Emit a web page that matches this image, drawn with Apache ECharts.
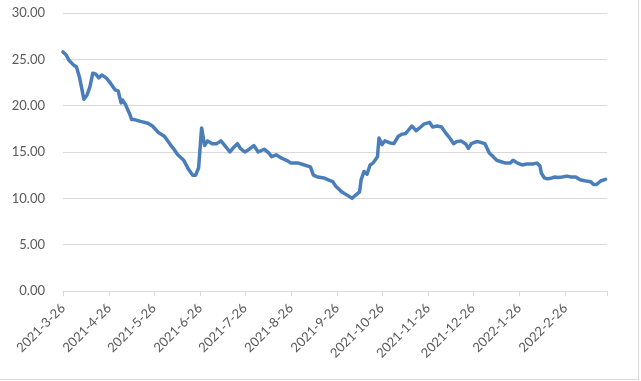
<!DOCTYPE html>
<html>
<head>
    <meta charset="utf-8">
    <title>ECharts</title>
    <script src="https://cdn.jsdelivr.net/npm/echarts@6/dist/echarts.min.js"></script>
    <style>
        body { margin: 0; background: #fff; }
        #main { width: 638px; height: 379px; border-right: 1px solid #d9d9d9; border-bottom: 1px solid #d9d9d9; }
    </style>
</head>
<body>
<div id="main"></div>
<script type="text/javascript">
    // 数据
    var startDate = '2021-3-26';
    var endDate = '2022-3-26';
    var yTicks = [0, 5, 10, 15, 20, 25, 30];

    var dates = [
        '2021-3-26','2021-3-28','2021-3-30','2021-4-2','2021-4-4','2021-4-6','2021-4-9','2021-4-11',
        '2021-4-13','2021-4-15','2021-4-17','2021-4-19','2021-4-21','2021-4-24','2021-4-27','2021-4-30',
        '2021-5-2','2021-5-4','2021-5-5','2021-5-7','2021-5-10','2021-5-11','2021-5-13','2021-5-17',
        '2021-5-22','2021-5-25','2021-5-29','2021-6-2','2021-6-6','2021-6-8','2021-6-11','2021-6-15',
        '2021-6-18','2021-6-21','2021-6-23','2021-6-25','2021-6-26','2021-6-27','2021-6-29','2021-7-1',
        '2021-7-4','2021-7-7','2021-7-10','2021-7-13','2021-7-16','2021-7-18','2021-7-21','2021-7-23',
        '2021-7-26','2021-7-29','2021-8-1','2021-8-4','2021-8-8','2021-8-11','2021-8-13','2021-8-16',
        '2021-8-20','2021-8-23','2021-8-26','2021-8-31','2021-9-4','2021-9-8','2021-9-10','2021-9-13',
        '2021-9-17','2021-9-20','2021-9-23','2021-9-25','2021-9-27','2021-9-29','2021-10-2','2021-10-6',
        '2021-10-8','2021-10-11','2021-10-12','2021-10-14','2021-10-16','2021-10-18','2021-10-20','2021-10-23',
        '2021-10-24','2021-10-26','2021-10-28','2021-10-31','2021-11-3','2021-11-6','2021-11-8','2021-11-11',
        '2021-11-13','2021-11-15','2021-11-18','2021-11-21','2021-11-23','2021-11-27','2021-11-29','2021-12-2',
        '2021-12-5','2021-12-8','2021-12-11','2021-12-13','2021-12-15','2021-12-18','2021-12-21','2021-12-23',
        '2021-12-25','2021-12-28','2021-12-30','2022-1-3','2022-1-4','2022-1-6','2022-1-8','2022-1-11',
        '2022-1-13','2022-1-17','2022-1-20','2022-1-22','2022-1-23','2022-1-25','2022-1-28','2022-1-31',
        '2022-2-4','2022-2-7','2022-2-9','2022-2-10','2022-2-12','2022-2-14','2022-2-17','2022-2-19',
        '2022-2-21','2022-2-24','2022-2-27','2022-3-2','2022-3-5','2022-3-8','2022-3-11','2022-3-15',
        '2022-3-17','2022-3-19','2022-3-22','2022-3-25'
    ];
    var values = [
        25.8, 25.5, 24.9, 24.4, 24.2, 23.1, 20.7, 21.1,
        22.0, 23.5, 23.4, 23.0, 23.3, 23.0, 22.4, 21.7,
        21.6, 20.3, 20.6, 20.1, 19.0, 18.5, 18.5, 18.3,
        18.1, 17.8, 17.1, 16.7, 15.8, 15.4, 14.7, 14.1,
        13.2, 12.5, 12.5, 13.3, 13.5, 17.6, 15.7, 16.2,
        15.9, 15.9, 16.2, 15.6, 15.0, 15.4, 15.9, 15.4,
        15.0, 15.3, 15.7, 15.0, 15.3, 14.9, 14.5, 14.7,
        14.3, 14.1, 13.8, 13.8, 13.6, 13.4, 12.5, 12.3,
        12.2, 12.0, 11.8, 11.3, 11.0, 10.7, 10.4, 10.0,
        10.3, 10.7, 12.0, 12.9, 12.6, 13.6, 13.8, 14.5,
        16.5, 15.8, 16.2, 16.0, 15.9, 16.7, 16.9, 17.0,
        17.4, 17.8, 17.3, 17.7, 18.0, 18.2, 17.7, 17.8,
        17.7, 17.0, 16.4, 15.9, 16.1, 16.2, 15.9, 15.4,
        15.9, 16.1, 16.1, 15.9, 15.6, 14.9, 14.6, 14.1,
        14.0, 13.8, 13.8, 14.1, 14.2, 13.8, 13.6, 13.7,
        13.7, 13.8, 13.5, 12.7, 12.2, 12.1, 12.2, 12.3,
        12.25, 12.3, 12.4, 12.3, 12.3, 12.0, 11.9, 11.8,
        11.5, 11.5, 11.9, 12.05
    ];

    // 生成每日类目
    function parseDate(s) {
        var p = s.split('-');
        return Date.UTC(+p[0], +p[1] - 1, +p[2]);
    }
    var days = [];
    for (var t = parseDate(startDate); t <= parseDate(endDate); t += 86400000) {
        var d = new Date(t);
        days.push(d.getUTCFullYear() + '-' + (d.getUTCMonth() + 1) + '-' + d.getUTCDate());
    }

    var seriesData = [];
    for (var i = 0; i < dates.length; i++) {
        seriesData.push([dates[i], values[i]]);
    }

    function isMonthTick(index, value) {
        return value.split('-')[2] === '26';
    }

    var myChart = echarts.init(document.getElementById('main'));
    var option = {
        animation: false,
        textStyle: { fontFamily: 'Lato' },
        grid: { left: 63, right: 31, top: 13, bottom: 88 },
        xAxis: {
            type: 'category',
            data: days,
            boundaryGap: false,
            axisLine: { lineStyle: { color: '#d9d9d9', width: 1 } },
            axisTick: { interval: isMonthTick, length: 5, lineStyle: { color: '#d9d9d9' } },
            axisLabel: {
                interval: function (index, value) {
                    return isMonthTick(index, value) && index < days.length - 1;
                },
                rotate: 45,
                margin: 15,
                color: '#595959',
                fontSize: 13
            },
            splitLine: { show: false }
        },
        yAxis: {
            type: 'value',
            min: yTicks[0],
            max: yTicks[yTicks.length - 1],
            interval: 5,
            axisLine: { show: false },
            axisTick: { show: false },
            axisLabel: {
                margin: 18,
                color: '#595959',
                fontSize: 13,
                formatter: function (v) { return v.toFixed(2); }
            },
            splitLine: { lineStyle: { color: '#d9d9d9', width: 1 } }
        },
        series: [{
            type: 'line',
            data: seriesData,
            showSymbol: false,
            smooth: false,
            lineStyle: { color: '#4a7ebb', width: 3.5, join: 'round', cap: 'round' }
        }]
    };
    myChart.setOption(option);
</script>
</body>
</html>
